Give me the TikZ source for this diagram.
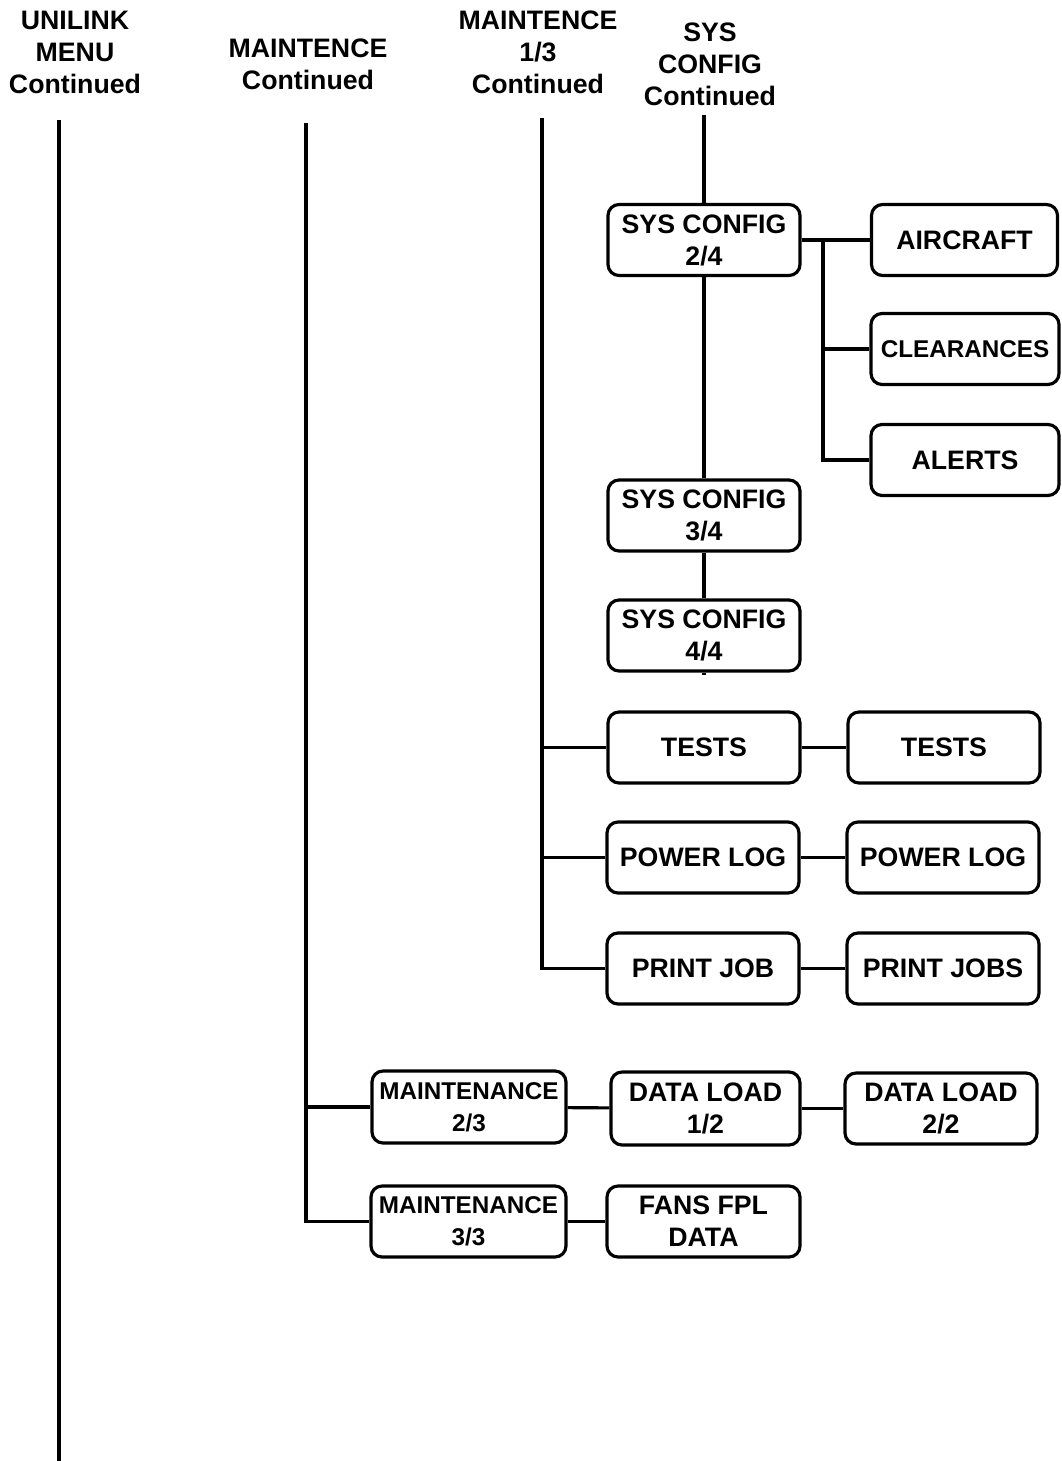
\documentclass[tikz,border=0pt]{standalone}
\usepackage{fontspec}
\setmainfont{Liberation Sans}
\usetikzlibrary{positioning}
\tikzset{
  menubox/.style={draw, line width=0.9pt, rounded corners=0.11cm, align=center,
    minimum width=1.92cm, minimum height=0.71cm, inner sep=1pt,
    font=\bfseries\fontsize{7.6}{9.1}\selectfont},
  smallbox/.style={menubox, font=\bfseries\fontsize{6.9}{9.1}\selectfont},
  headtxt/.style={align=center, inner sep=0pt,
    font=\bfseries\fontsize{7.6}{9.1}\selectfont},
  wire/.style={line width=0.9pt},
}
\begin{document}
\begin{tikzpicture}
    \useasboundingbox (0,0) rectangle (10.61,-14.61);
    % column headers
    \node[headtxt] (hunilink) at (0.75,-0.52) {UNILINK\\MENU\\Continued};
    \node[headtxt] (hmaint) at (3.08,-0.64) {MAINTENCE\\Continued};
    \node[headtxt] (hmaintone) at (5.38,-0.52) {MAINTENCE\\1/3\\Continued};
    \node[headtxt] (hsys) at (7.10,-0.645) {SYS\\CONFIG\\Continued};
    % trunk ends
    \coordinate (utop) at (0.59,-1.20);
    \coordinate (ubot) at (0.59,-14.61);
    \coordinate (mtop) at (3.06,-1.23);
    \coordinate (m1top) at (5.42,-1.18);
    \coordinate (stop) at (7.04,-1.15);
    \coordinate (stail) at (7.04,-6.75);
    \coordinate (sfork) at (8.23,-2.40);
    % sys config pages
    \node[menubox] (sctwo) at (7.04,-2.40) {SYS CONFIG\\2/4};
    \node[menubox] (scthree) at (7.04,-5.155) {SYS CONFIG\\3/4};
    \node[menubox] (scfour) at (7.04,-6.355) {SYS CONFIG\\4/4};
    \node[menubox, minimum width=1.86cm] (aircraft) at (9.645,-2.40) {AIRCRAFT};
    \node[smallbox, minimum width=1.88cm] (clear) at (9.65,-3.49) {CLEARANCES};
    \node[menubox, minimum width=1.88cm] (alerts) at (9.65,-4.60) {ALERTS};
    % maintence 1/3 items
    \node[menubox] (tests) at (7.04,-7.475) {TESTS};
    \node[menubox] (powerlog) at (7.03,-8.575) {POWER LOG};
    \node[menubox] (printjob) at (7.03,-9.685) {PRINT JOB};
    \node[menubox] (teststwo) at (9.44,-7.475) {TESTS};
    \node[menubox] (powerlogtwo) at (9.43,-8.575) {POWER LOG};
    \node[menubox] (printjobs) at (9.43,-9.685) {PRINT JOBS};
    % maintenance pages
    \node[smallbox, minimum width=1.94cm, minimum height=0.72cm] (mainttwo) at (4.69,-11.07) {MAINTENANCE\\2/3};
    \node[smallbox, minimum width=1.95cm] (maintthree) at (4.685,-12.215) {MAINTENANCE\\3/3};
    \node[menubox, minimum width=1.89cm, minimum height=0.73cm] (dlone) at (7.055,-11.085) {DATA LOAD\\1/2};
    \node[menubox, minimum height=0.71cm] (dltwo) at (9.41,-11.085) {DATA LOAD\\2/2};
    \node[menubox, minimum width=1.93cm] (fans) at (7.035,-12.215) {FANS FPL\\DATA};
    % trunks
    \draw[wire] (utop) -- (ubot);
    \draw[wire] (mtop) |- (maintthree.west);
    \draw[wire] (mainttwo.west) -- (mainttwo.west -| mtop);
    \draw[wire] (m1top) |- (printjob.west);
    \draw[wire] (tests.west) -- (tests.west -| m1top);
    \draw[wire] (powerlog.west) -- (powerlog.west -| m1top);
    \draw[wire] (stop) -- (sctwo);
    \draw[wire] (sctwo) -- (scthree);
    \draw[wire] (scthree) -- (scfour);
    \draw[wire] (scfour.south) -- (stail);
    % side branches of sys config 2/4
    \draw[wire] (sctwo.east) -- (aircraft.west);
    \draw[wire] (sfork) |- (alerts.west);
    \draw[wire] (clear.west) -- (clear.west -| sfork);
    % right hand pages
    \draw[wire] (tests) -- (teststwo);
    \draw[wire] (powerlog) -- (powerlogtwo);
    \draw[wire] (printjob) -- (printjobs);
    \draw[wire] (mainttwo) -- (dlone);
    \draw[wire] (dlone) -- (dltwo);
    \draw[wire] (maintthree) -- (fans);
\end{tikzpicture}
\end{document}
